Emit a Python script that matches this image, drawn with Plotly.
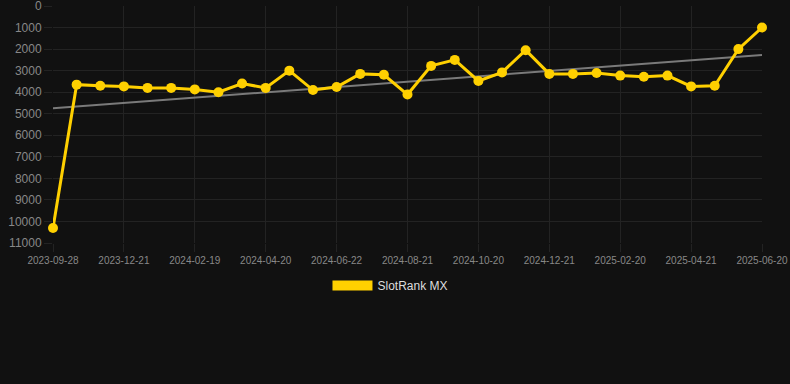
import numpy as np
import plotly.graph_objects as go

dates = [
    "2023-09-28", "2023-10-26", "2023-11-23", "2023-12-21", "2024-01-10", "2024-01-30",
    "2024-02-19", "2024-03-10", "2024-03-31", "2024-04-20", "2024-05-11", "2024-06-01",
    "2024-06-22", "2024-07-12", "2024-08-01", "2024-08-21", "2024-09-10", "2024-09-30",
    "2024-10-20", "2024-11-10", "2024-12-01", "2024-12-21", "2025-01-10", "2025-01-31",
    "2025-02-20", "2025-03-12", "2025-04-01", "2025-04-21", "2025-05-11", "2025-05-31",
    "2025-06-20",
]
rank = [10300, 3650, 3700, 3730, 3800, 3800, 3870, 4000, 3600, 3800, 3000, 3900, 3760,
        3150, 3190, 4110, 2780, 2500, 3480, 3080, 2050, 3150, 3150, 3110, 3230, 3280,
        3230, 3730, 3700, 2000, 1000]
series_name = "SlotRank MX"
y_ticks = list(range(0, 11001, 1000))

idx = np.arange(len(rank))
slope, intercept = np.polyfit(idx, rank, 1)
trend = slope * idx + intercept

GOLD = "#ffd000"
BG = "#111111"
GRID = "#232323"
FONT = "Liberation Sans, Arial, sans-serif"

fig = go.Figure()
fig.add_trace(go.Scatter(
    x=dates, y=trend, mode="lines", line=dict(color="#7a7a7a", width=2),
    showlegend=False, hoverinfo="skip",
))
fig.add_trace(go.Scatter(
    x=dates, y=rank, mode="lines+markers", name=series_name,
    line=dict(color=GOLD, width=3), marker=dict(color=GOLD, size=10),
    showlegend=False, cliponaxis=False,
))
fig.add_trace(go.Scatter(
    x=[None], y=[None], mode="lines", name=series_name,
    line=dict(color=GOLD, width=12), showlegend=True,
))

fig.update_layout(
    width=790, height=384,
    margin=dict(l=53, r=28, t=6, b=141),
    paper_bgcolor=BG, plot_bgcolor=BG,
    font=dict(family=FONT, color="#888888"),
    legend=dict(
        orientation="h", x=0.476, xanchor="center", y=-0.118, yanchor="top",
        font=dict(size=12, color="#dddddd", family=FONT),
        itemwidth=40, bgcolor="rgba(0,0,0,0)",
    ),
)
fig.update_xaxes(
    type="category", range=[0, len(dates) - 1],
    tickvals=dates[::3], ticktext=dates[::3],
    showgrid=True, gridcolor=GRID, gridwidth=1,
    ticks="outside", ticklen=8, tickcolor=GRID,
    tickfont=dict(size=10, color="#888888"),
    showline=False, zeroline=False, automargin=False,
)
fig.update_yaxes(
    range=[11000, -1], tickvals=y_ticks, ticktext=[str(v) for v in y_ticks],
    showgrid=True, gridcolor=GRID, gridwidth=1,
    ticks="outside", ticklen=8, tickcolor=GRID,
    tickfont=dict(size=12, color="#888888"),
    ticklabeloverflow="allow",
    showline=False, zeroline=False, automargin=False,
)

fig.write_html("out.html")
